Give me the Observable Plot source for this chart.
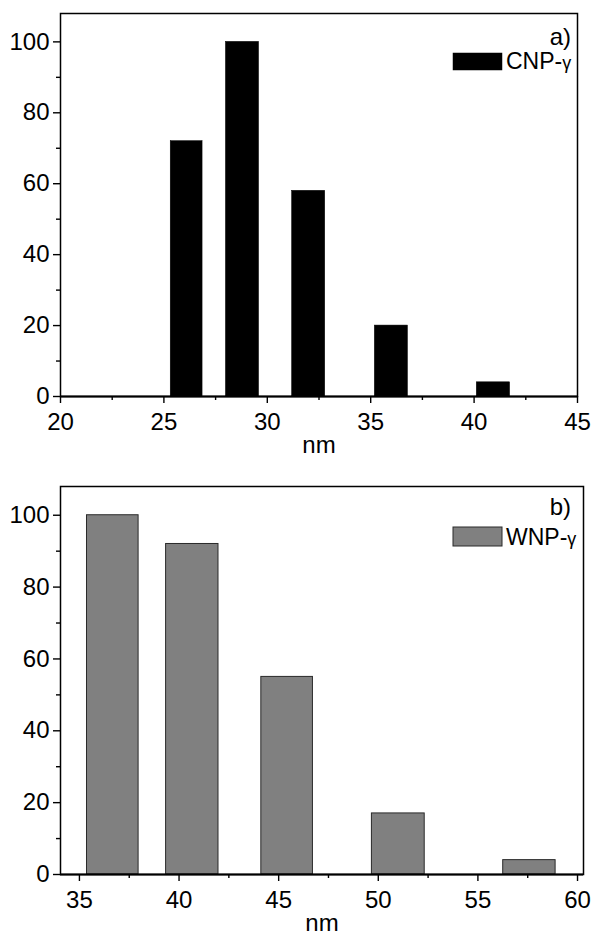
<!DOCTYPE html>
<html><head><meta charset="utf-8">
<script src="https://cdn.jsdelivr.net/npm/d3@7"></script>
<script src="https://cdn.jsdelivr.net/npm/@observablehq/plot@0.6"></script>
<style>
body{margin:0;background:#fff;overflow:hidden;}
#wrap{width:592px;}
#wrap svg{display:block;}
</style></head><body><div id="wrap"></div>
<script>
// Data
const cnpStart = [25.33, 28.0, 31.2, 35.2, 40.13];
const cnpEnd   = [26.87, 29.6, 32.8, 36.8, 41.74];
const cnpCount = [72, 100, 58, 20, 4];
const wnpStart = [35.38, 39.35, 44.13, 49.68, 56.27];
const wnpEnd   = [37.97, 41.98, 46.72, 52.33, 58.9];
const wnpCount = [100, 92, 55, 17, 4];
const cnpTicks = [20, 25, 30, 35, 40, 45];
const cnpMinor = [22.5, 27.5, 32.5, 37.5, 42.5];
const wnpTicks = [35, 40, 45, 50, 55, 60];
const wnpMinor = [37.5, 42.5, 47.5, 52.5, 57.5];
const yTicks = [0, 20, 40, 60, 80, 100];
const yMinor = [10, 30, 50, 70, 90];
const xLabel = "nm";

const FONT = "'Liberation Sans', Arial, Helvetica, sans-serif";
const FS = 24;

function panel(o) {
  const idx = d3.range(o.count.length);
  const svg = Plot.plot({
    width: 592,
    height: o.height,
    marginTop: o.mt, marginBottom: o.mb, marginLeft: o.ml, marginRight: o.mr,
    style: {fontFamily: FONT, fontSize: FS + "px", color: "black", background: "white"},
    x: {domain: o.xDomain},
    y: {domain: [0, 108]},
    marks: [
      Plot.rectY(idx, {x1: i => o.start[i], x2: i => o.end[i], y: i => o.count[i],
        fill: o.fill, stroke: o.stroke, strokeWidth: o.sw}),
      Plot.axisX({ticks: o.ticks, tickSize: 7, tickPadding: 9, tickFormat: d => String(d), label: null, strokeWidth: 1.4, fontSize: FS}),
      Plot.axisX({ticks: o.minor, tickSize: 4, tickFormat: () => "", label: null, strokeWidth: 1.4}),
      Plot.axisY({ticks: yTicks, tickSize: 7, tickPadding: 4, tickFormat: d => String(d), label: null, strokeWidth: 1.4, fontSize: FS}),
      Plot.axisY({ticks: yMinor, tickSize: 4, tickFormat: () => "", label: null, strokeWidth: 1.4}),
      Plot.ruleY([0], {stroke: "black", strokeWidth: 2}),
      Plot.frame({stroke: "black", strokeWidth: 1.5}),
      Plot.text([xLabel], {frameAnchor: "bottom", dy: 56, fontSize: FS, fill: "black"})
    ]
  });
  const s = d3.select(svg);
  const top = o.mt;
  s.append("text").attr("x", o.lg.tagRight).attr("y", top + o.lg.tagBase)
    .attr("text-anchor", "end").attr("font-size", 24).attr("font-family", FONT)
    .attr("fill", "black").text(o.tag);
  s.append("rect").attr("x", o.lg.swX).attr("y", top + o.lg.swY)
    .attr("width", o.lg.swW).attr("height", o.lg.swH)
    .attr("fill", o.fill).attr("stroke", o.stroke || "none").attr("stroke-width", o.sw || 0);
  const t = s.append("text").attr("x", o.lg.txtX).attr("y", top + o.lg.txtBase)
    .attr("text-anchor", "start")
    .attr("font-size", 23).attr("font-family", FONT).attr("fill", "black");
  t.append("tspan").text(o.name[0]);
  t.append("tspan").attr("font-size", 18).text(o.name[1]);
  return svg;
}

const wrap = document.getElementById("wrap");
wrap.appendChild(panel({
  height: 470, mt: 13, mb: 74, ml: 60, mr: 15, xDomain: [20, 45],
  start: cnpStart, end: cnpEnd, count: cnpCount, ticks: cnpTicks, minor: cnpMinor,
  fill: "black", stroke: "black", sw: 0.5, tag: "a)", name: ["CNP-", "γ"],
  lg: {tagRight: 571, tagBase: 32, swX: 453, swY: 40, swW: 49, swH: 17, txtX: 506, txtBase: 56}
}));
wrap.appendChild(panel({
  height: 469, mt: 16, mb: 65, ml: 60, mr: 9, xDomain: [34.05, 60.3],
  start: wnpStart, end: wnpEnd, count: wnpCount, ticks: wnpTicks, minor: wnpMinor,
  fill: "#808080", stroke: "#2a2a2a", sw: 1, tag: "b)", name: ["WNP-", "γ"],
  lg: {tagRight: 571, tagBase: 29, swX: 453, swY: 41, swW: 49, swH: 19, txtX: 506, txtBase: 59}
}));
</script></body></html>
